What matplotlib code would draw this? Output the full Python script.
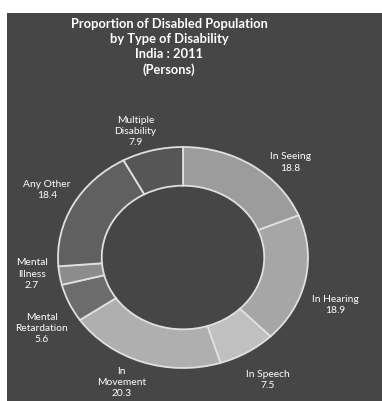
import matplotlib.pyplot as plt
import matplotlib.patches as mpatches

# Disabled population of India, 2011 census, share by type (%)
categories = [
    "In Seeing",
    "In Hearing",
    "In Speech",
    "In\nMovement",
    "Mental\nRetardation",
    "Mental\nIllness",
    "Any Other",
    "Multiple\nDisability",
]
shares = [18.8, 18.9, 7.5, 20.3, 5.6, 2.7, 18.4, 7.9]

TITLE = "Proportion of Disabled Population\nby Type of Disability\nIndia : 2011\n(Persons)"

BG = "#464646"
SLICE_COLORS = ["#9c9c9c", "#a6a6a6", "#c0c0c0", "#afafaf",
                "#6c6c6c", "#8c8c8c", "#606060", "#565656"]
# label centres in pie data units (the pie spans -1..1 on both axes)
LABEL_POS = [(0.86, 0.86), (1.22, -0.43), (0.68, -1.11), (-0.49, -1.13),
             (-1.13, -0.64), (-1.21, -0.15), (-1.09, 0.61), (-0.38, 1.14)]

fig = plt.figure(figsize=(3.82, 4.01), dpi=100, facecolor="white")
fig.patches.append(mpatches.Rectangle((7 / 382, 0), 1, 388 / 401,
                                      transform=fig.transFigure,
                                      facecolor=BG, edgecolor="none", zorder=-5))

fig.text(169 / 382, 1 - 47 / 401, TITLE, ha="center", va="center",
         color="white", fontsize=9.3, fontweight="bold", family="Lato",
         linespacing=1.3)

ax = fig.add_axes([58 / 382, 33 / 401, 250 / 382, 221 / 401])
ax.set_zorder(2)
ax.pie(shares, colors=SLICE_COLORS, startangle=90, counterclock=False,
       wedgeprops=dict(width=0.35, edgecolor="#e0e0e0", linewidth=1.3))
ax.set_aspect("auto")
ax.set_xlim(-1.0, 1.0)
ax.set_ylim(-1.0, 1.0)
ax.axis("off")

for cat, val, (x, y) in zip(categories, shares, LABEL_POS):
    ax.text(x, y, f"{cat}\n{val}", ha="center", va="center", color="white",
            fontsize=7.4, family="Lato", linespacing=1.3, clip_on=False)

fig.savefig("out.png", dpi=100, facecolor=fig.get_facecolor())
